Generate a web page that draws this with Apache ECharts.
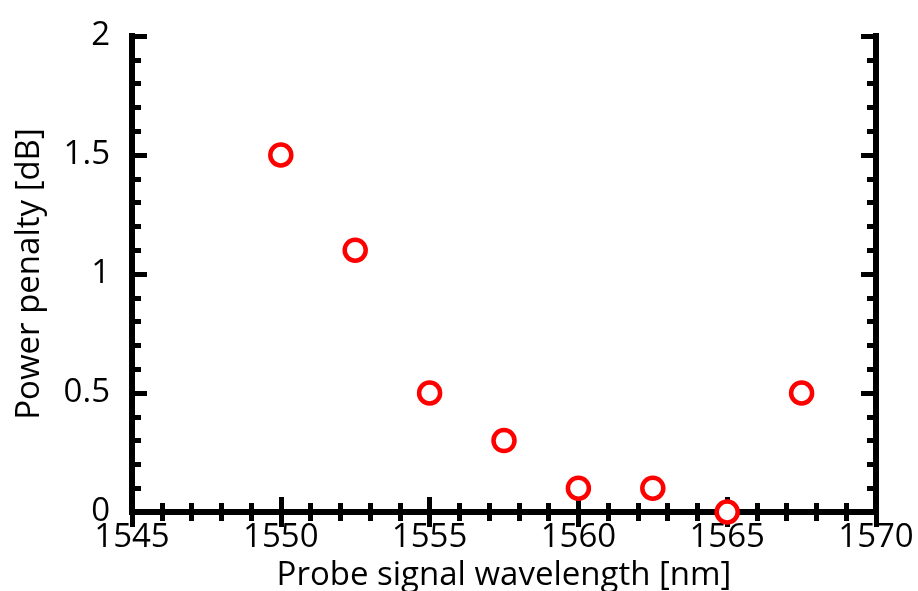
<!DOCTYPE html>
<html><head><meta charset="utf-8">
<script src="https://cdn.jsdelivr.net/npm/echarts@6/dist/echarts.min.js"></script>
<style>html,body{margin:0;padding:0;background:#fff}#c{width:918px;height:591px}</style>
</head><body><div id="c"></div>
<script>
const wavelengths = [1550, 1552.5, 1555, 1557.5, 1560, 1562.5, 1565, 1567.5];
const penalties = [1.5, 1.1, 0.5, 0.3, 0.1, 0.1, 0.0, 0.5];
const xTitle = 'Probe signal wavelength [nm]';
const yTitle = 'Power penalty [dB]';

const FONT = 'Open Sans';
const chart = echarts.init(document.getElementById('c'));
const axisLine = {show: true, lineStyle: {color: '#000', width: 6, cap: 'square'}};
const tick = {show: true, inside: true, length: 15, lineStyle: {color: '#000', width: 5}};
const minor = {show: true, splitNumber: 5, length: 9, lineStyle: {color: '#000', width: 5}};
const xBase = {type: 'value', min: 1545, max: 1570, interval: 5, axisLine, axisTick: tick, minorTick: minor, splitLine: {show: false}};
const yBase = {type: 'value', min: 0, max: 2, interval: 0.5, axisLine, axisTick: tick, minorTick: minor, splitLine: {show: false}};
chart.setOption({
  animation: false,
  grid: {left: 132, right: 42, top: 36, bottom: 79, containLabel: false, outerBoundsMode: 'none'},
  xAxis: [
    Object.assign({}, xBase, {position: 'bottom', name: xTitle, nameLocation: 'middle', nameGap: 45,
      nameTextStyle: {fontFamily: FONT, fontSize: 33, color: '#000'},
      axisLabel: {fontFamily: FONT, fontSize: 33, color: '#000', margin: 9, formatter: v => String(v)}}),
    Object.assign({}, xBase, {position: 'top', axisLabel: {show: false}})
  ],
  yAxis: [
    Object.assign({}, yBase, {position: 'left', name: yTitle, nameLocation: 'middle', nameGap: 86,
      nameTextStyle: {fontFamily: FONT, fontSize: 33, color: '#000'},
      axisLabel: {fontFamily: FONT, fontSize: 33, color: '#000', margin: 22,
        formatter: v => String(v)}}),
    Object.assign({}, yBase, {position: 'right', axisLabel: {show: false}})
  ],
  series: [{
    type: 'scatter', xAxisIndex: 0, yAxisIndex: 0,
    data: wavelengths.map((w, i) => [w, penalties[i]]),
    symbol: 'circle', symbolSize: 21,
    itemStyle: {color: '#fff', borderColor: '#ff0000', borderWidth: 4.5, opacity: 1},
    z: 10,
    clip: false
  }]
});
</script></body></html>
